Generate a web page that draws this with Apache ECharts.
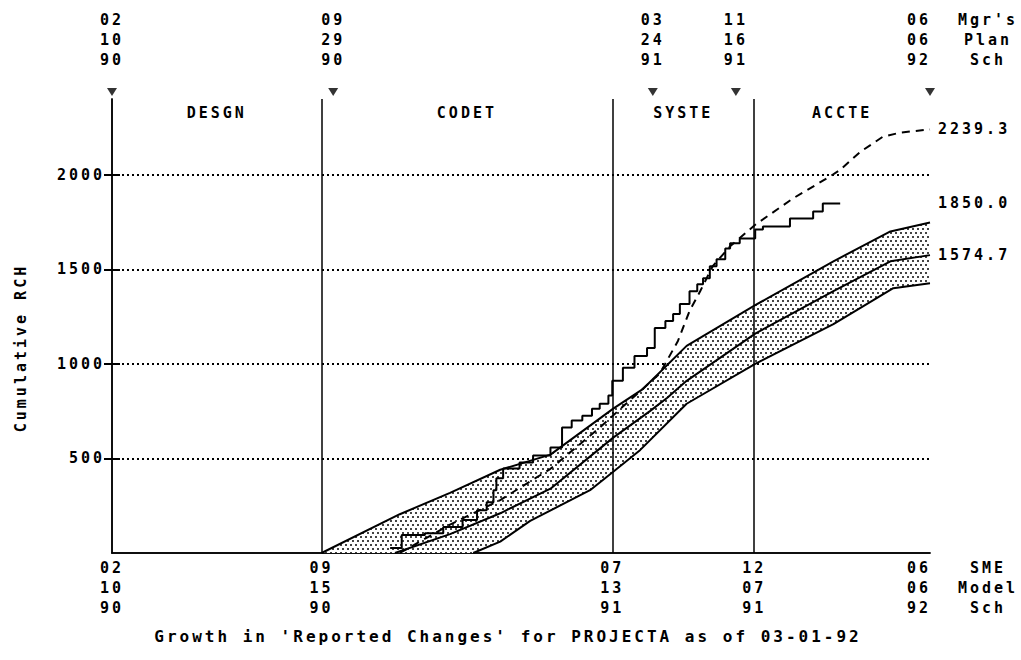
<!DOCTYPE html>
<html>
<head>
<meta charset="utf-8">
<script src="https://cdn.jsdelivr.net/npm/echarts@6.0.0/dist/echarts.min.js"></script>
<style>
  html, body { margin: 0; padding: 0; background: #fff; }
  #chart { width: 1021px; height: 660px; }
  /* wide plotter-style lettering */
  #chart svg text { letter-spacing: 3px; }
</style>
</head>
<body>
<div id="chart"></div>
<script>
// x values are days counted from 02/10/90
const bottomTickDays = [0, 217, 518, 665, 847];
const bottomTickDates = [["02", "10", "90"], ["09", "15", "90"], ["07", "13", "91"], ["12", "07", "91"], ["06", "06", "92"]];
const topTickDays = [0, 229, 560, 646, 847];
const topTickDates = [["02", "10", "90"], ["09", "29", "90"], ["03", "24", "91"], ["11", "16", "91"], ["06", "06", "92"]];
const topNotes = ["Mgr's", "Plan", "Sch"];
const bottomNotes = ["SME", "Model", "Sch"];

const phaseNames = ["DESGN", "CODET", "SYSTE", "ACCTE"];
const phaseBounds = [0, 217, 518, 665, 847];
const yTicks = [500, 1000, 1500, 2000];

const upperBound = [[217, 0], [298, 205], [350, 318], [402, 440], [454, 520], [519, 763], [550, 868], [595, 1095], [666, 1310], [747, 1542], [806, 1700], [847, 1747]];
const modelMiddle = [[293, 0], [350, 100], [402, 210], [454, 340], [519, 610], [557, 750], [575, 821], [595, 910], [666, 1160], [747, 1384], [806, 1542], [847, 1574.7]];
const lowerBound = [[374, 0], [402, 60], [433, 170], [495, 332], [519, 430], [547, 545], [595, 789], [666, 1000], [747, 1210], [809, 1400], [847, 1426]];
const plannedCum = [[298, 0], [350, 150], [402, 280], [454, 445], [505, 663], [539, 820], [567, 947], [586, 1121], [598, 1279], [609, 1384], [622, 1516], [640, 1621], [666, 1735], [705, 1874], [743, 1989], [754, 2026], [775, 2121], [798, 2200], [816, 2222], [847, 2239.3]];
const actualCum = [[288, 26], [300, 95], [324, 105], [343, 137], [363, 174], [378, 226], [388, 268], [395, 332], [398, 395], [405, 447], [422, 479], [436, 516], [454, 558], [466, 663], [476, 700], [487, 726], [497, 763], [505, 789], [514, 832], [518, 910], [529, 979], [541, 1042], [554, 1084], [562, 1189], [573, 1226], [581, 1263], [588, 1316], [598, 1384], [606, 1421], [612, 1453], [619, 1516], [626, 1553], [635, 1610], [640, 1637], [650, 1663], [666, 1710], [674, 1726], [702, 1768], [726, 1805], [736, 1847], [754, 1850]];

const endValues = [modelMiddle, actualCum, plannedCum].map((s) => s[s.length - 1][1]);

const FONT = "DejaVu Sans Mono";
const txt = { fontFamily: FONT, fontWeight: "bold", fontSize: 15, color: "#000" };

function dotTile() {
  const c = document.createElement("canvas");
  c.width = 5;
  c.height = 8;
  const ctx = c.getContext("2d");
  ctx.fillStyle = "#fff";
  ctx.fillRect(0, 0, 5, 8);
  ctx.fillStyle = "#444";
  ctx.fillRect(0, 0, 2, 2);
  ctx.fillRect(2, 4, 2, 2);
  return c;
}
const tile = dotTile();

const myChart = echarts.init(document.getElementById("chart"), null, { renderer: "svg" });

const blackLine = { color: "#000", width: 1.5 };

const dateLabel = (days, dates) => (v) => {
  const i = days.indexOf(v);
  const tag = i === days.length - 1 ? "e" : "d";
  return dates[i].map((s) => `{${tag}|${s}}`).join("\n");
};
const dateRich = {
  d: { ...txt, lineHeight: 20 },
  e: { ...txt, lineHeight: 20, padding: [0, 22, 0, 0] },
};

const option = {
  animation: false,
  backgroundColor: "#fff",
  textStyle: txt,
  grid: { left: 112, right: 91, top: 99, bottom: 107 },
  title: {
    text: "Growth in 'Reported Changes' for PROJECTA as of 03-01-92",
    left: 503,
    top: 623,
    textAlign: "center",
    textStyle: { ...txt, fontSize: 16 },
  },
  xAxis: [
    {
      type: "value",
      position: "bottom",
      min: 0,
      max: 847,
      axisLine: { lineStyle: blackLine },
      axisTick: { show: false },
      splitLine: { show: false },
      axisLabel: {
        customValues: bottomTickDays,
        margin: 5,
        hideOverlap: false,
        formatter: dateLabel(bottomTickDays, bottomTickDates),
        rich: dateRich,
      },
    },
    {
      type: "value",
      position: "top",
      min: 0,
      max: 847,
      axisLine: { lineStyle: blackLine },
      axisTick: { show: false },
      splitLine: { show: false },
      axisLabel: {
        customValues: topTickDays,
        margin: 29,
        hideOverlap: false,
        formatter: dateLabel(topTickDays, topTickDates),
        rich: dateRich,
      },
    },
  ],
  yAxis: [
    {
      type: "value",
      position: "left",
      min: 0,
      max: 2400,
      name: "Cumulative RCH",
      nameLocation: "middle",
      nameGap: 84,
      nameTextStyle: { ...txt, padding: [0, 44, 0, 0] },
      axisLine: { show: true, lineStyle: blackLine },
      axisTick: { show: true, inside: true, length: 8, customValues: yTicks, lineStyle: { color: "#000", width: 2 } },
      axisLabel: { ...txt, customValues: yTicks, margin: 7, formatter: (v) => String(v) },
      splitLine: { show: true, lineStyle: { color: "#000", type: [2, 3], width: 2 } },
    },
    {
      type: "value",
      position: "right",
      min: 0,
      max: 2400,
      axisLine: { show: true, lineStyle: blackLine },
      axisTick: { show: true, inside: true, length: 8, customValues: yTicks, lineStyle: { color: "#000", width: 2 } },
      axisLabel: { ...txt, customValues: endValues, margin: 8, formatter: (v) => v.toFixed(1) },
      splitLine: { show: false },
    },
  ],
  graphic: [
    ...topNotes.map((t, i) => ({
      type: "text",
      x: 988,
      y: 20 + 20 * i,
      style: { text: t, align: "center", verticalAlign: "middle", fontFamily: FONT, fontWeight: "bold", fontSize: 15, fill: "#000" },
    })),
    ...bottomNotes.map((t, i) => ({
      type: "text",
      x: 988,
      y: 568 + 20 * i,
      style: { text: t, align: "center", verticalAlign: "middle", fontFamily: FONT, fontWeight: "bold", fontSize: 15, fill: "#000" },
    })),
  ],
  series: [
    // shaded band between the bounds
    {
      type: "custom",
      z: 1,
      silent: true,
      data: [0],
      renderItem: (params, api) => {
        const pts = upperBound.concat(lowerBound.slice().reverse()).map((p) => api.coord(p));
        return {
          type: "polygon",
          shape: { points: pts },
          style: { fill: { image: tile, repeat: "repeat" }, stroke: "none" },
        };
      },
    },
    {
      type: "line",
      z: 3,
      silent: true,
      symbol: "none",
      data: upperBound,
      lineStyle: { color: "#000", width: 2 },
    },
    {
      type: "line",
      z: 3,
      silent: true,
      symbol: "none",
      data: lowerBound,
      lineStyle: { color: "#000", width: 2 },
    },
    {
      type: "line",
      z: 3,
      silent: true,
      symbol: "none",
      data: modelMiddle,
      lineStyle: { color: "#000", width: 2 },
      markLine: {
        silent: true,
        symbol: ["none", "none"],
        label: { show: false },
        lineStyle: { color: "#000", type: "solid", width: 1.5 },
        data: phaseBounds.slice(1, -1).map((d) => ({ xAxis: d })),
      },
      markArea: {
        silent: true,
        itemStyle: { color: "rgba(0,0,0,0)" },
        label: { ...txt, position: "insideTop", distance: 6 },
        data: phaseNames.map((n, i) => [{ name: n, xAxis: phaseBounds[i] }, { xAxis: phaseBounds[i + 1] }]),
      },
    },
    {
      type: "line",
      z: 4,
      silent: true,
      symbol: "none",
      data: plannedCum,
      lineStyle: { color: "#000", width: 2, type: [8, 6] },
    },
    {
      type: "line",
      z: 4,
      silent: true,
      symbol: "none",
      step: "end",
      data: actualCum,
      lineStyle: { color: "#000", width: 2 },
    },
    // schedule markers above the top axis
    {
      type: "scatter",
      xAxisIndex: 1,
      z: 5,
      silent: true,
      clip: false,
      symbol: "triangle",
      symbolRotate: 180,
      symbolSize: [10, 8],
      symbolOffset: [0, -7],
      itemStyle: { color: "#000" },
      data: topTickDays.map((d) => [d, 2400]),
    },
  ],
};

myChart.setOption(option);
</script>
</body>
</html>
